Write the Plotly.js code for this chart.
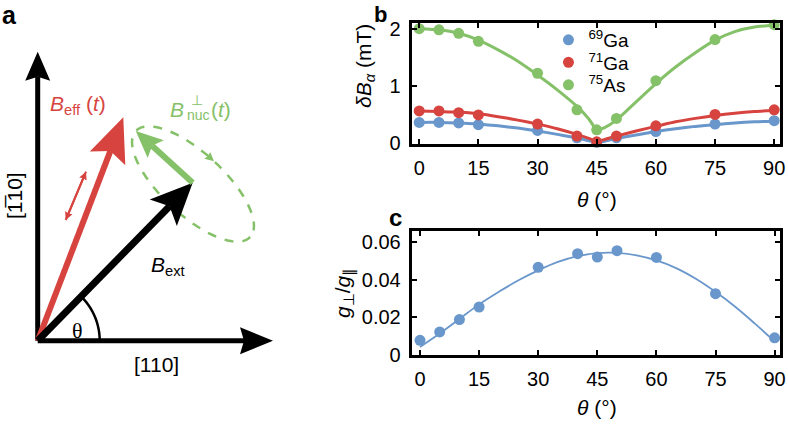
<!DOCTYPE html>
<html>
<head>
<meta charset="utf-8">
<script src="https://cdn.plot.ly/plotly-3.0.1.min.js"></script>
<style>
  body { margin: 0; background: #fff; }
  #fig { width: 788px; height: 426px; }
</style>
</head>
<body>
<div id="fig"></div>
<script>
// ---- panel b data: field fluctuation amplitude vs angle
var thetaB = [0, 5, 10, 15, 30, 40, 45, 50, 60, 75, 90];
var ga69 = [0.36, 0.36, 0.35, 0.32, 0.22, 0.09, 0.01, 0.09, 0.20, 0.33, 0.39];
var ga71 = [0.56, 0.56, 0.53, 0.49, 0.33, 0.12, 0.02, 0.12, 0.30, 0.50, 0.58];
var as75 = [2.00, 1.98, 1.92, 1.78, 1.22, 0.58, 0.23, 0.43, 1.09, 1.81, 2.07];

// fitted curves
var fitThetaB = [0, 5, 10, 15, 20, 25, 30, 35, 40, 43, 45, 47, 50, 55, 60, 65, 70, 75, 80, 85, 90];
var fit69 = [0.36, 0.36, 0.35, 0.33, 0.30, 0.26, 0.21, 0.15, 0.09, 0.04, 0.01, 0.03, 0.08, 0.14, 0.20, 0.25, 0.29, 0.32, 0.35, 0.37, 0.38];
var fit71 = [0.56, 0.55, 0.54, 0.51, 0.46, 0.40, 0.33, 0.25, 0.15, 0.08, 0.03, 0.06, 0.12, 0.21, 0.29, 0.37, 0.43, 0.48, 0.52, 0.55, 0.57];
var fit75 = [2.00, 1.98, 1.92, 1.80, 1.63, 1.43, 1.19, 0.93, 0.64, 0.42, 0.23, 0.27, 0.40, 0.72, 1.04, 1.33, 1.58, 1.80, 1.95, 2.03, 2.06];

// ---- panel c data: g-factor ratio vs angle
var thetaC = [0, 5, 10, 15, 30, 40, 45, 50, 60, 75, 90];
var gRatio = [0.0076, 0.0121, 0.0187, 0.0254, 0.0466, 0.0539, 0.0521, 0.0555, 0.0519, 0.0325, 0.0089];
var fitThetaC = [0, 5, 10, 15, 20, 25, 30, 35, 40, 45, 50, 55, 60, 65, 70, 75, 80, 85, 90];
var fitG = [0.0040, 0.0112, 0.0190, 0.0268, 0.0335, 0.0397, 0.0450, 0.0495, 0.0526, 0.0542, 0.0543, 0.0530, 0.0503, 0.0462, 0.0405, 0.0335, 0.0255, 0.0165, 0.0070];

var ticksTheta = [0, 15, 30, 45, 60, 75, 90];
var seriesNames = ['<sup>69</sup>Ga', '<sup>71</sup>Ga', '<sup>75</sup>As'];

var BLUE = '#6a97cb', RED = '#d7443f', GREEN = '#85c168';
var FONT = 'Liberation Sans, Arial, Helvetica, sans-serif';

// ---- panel a: vector diagram, in pixel units of a hidden subplot
var origin = [37.7, 340.7];
var extTip = [192.7, 182.7];
var effTip = [123.3, 117.3];
var ell = {cx: 193, cy: 184, a: 78, b: 31, phi: 42.8};

function ellPoint(tDeg) {
  var t = tDeg * Math.PI / 180, p = ell.phi * Math.PI / 180;
  return [ell.cx + ell.a * Math.cos(t) * Math.cos(p) - ell.b * Math.sin(t) * Math.sin(p),
          ell.cy + ell.a * Math.cos(t) * Math.sin(p) + ell.b * Math.sin(t) * Math.cos(p)];
}

function arrow(p0, p1, color, w, head, hw, notch) {
  var dx = p1[0] - p0[0], dy = p1[1] - p0[1];
  var L = Math.sqrt(dx * dx + dy * dy), ux = dx / L, uy = dy / L, nx = -uy, ny = ux;
  var bx = p1[0] - ux * head, by = p1[1] - uy * head;
  var mx = p1[0] - ux * (head - notch), my = p1[1] - uy * (head - notch);
  return [
    {type: 'line', xref: 'x3', yref: 'y3', x0: p0[0], y0: p0[1], x1: mx, y1: my,
     line: {color: color, width: w}},
    {type: 'path', xref: 'x3', yref: 'y3', fillcolor: color, line: {width: 0},
     path: 'M' + p1[0] + ',' + p1[1] + ' L' + (bx + nx * hw) + ',' + (by + ny * hw) +
           ' L' + mx + ',' + my + ' L' + (bx - nx * hw) + ',' + (by - ny * hw) + ' Z'}
  ];
}

var shapes = [];
// crystal axes
shapes = shapes.concat(arrow(origin, [origin[0], 51.7], 'black', 5, 29, 12.5, 4));
shapes = shapes.concat(arrow(origin, [273, origin[1]], 'black', 5, 33, 13.5, 4));
// theta arc
var arcPts = [];
for (var k = 0; k <= 30; k++) {
  var ang = k / 30 * 45.5 * Math.PI / 180;
  arcPts.push((origin[0] + 62 * Math.cos(ang)) + ',' + (origin[1] - 62 * Math.sin(ang)));
}
shapes.push({type: 'path', xref: 'x3', yref: 'y3', path: 'M' + arcPts.join(' L'),
             line: {color: 'black', width: 2.5}});
// red B_eff and its small double arrow
shapes = shapes.concat(arrow(origin, effTip, RED, 6, 44, 19, 8));
shapes = shapes.concat(arrow([65.7, 220], [86, 171.7], RED, 2, 8, 4, 1));
shapes = shapes.concat(arrow([86, 171.7], [65.7, 220], RED, 2, 8, 4, 1));
// dashed precession ellipse
var ePts = [];
for (var t = 0; t <= 360; t += 5) { var q = ellPoint(t); ePts.push(q[0] + ',' + q[1]); }
shapes.push({type: 'path', xref: 'x3', yref: 'y3', path: 'M' + ePts.join(' L') + ' Z',
             line: {color: GREEN, width: 2.5, dash: 'dash'}});
var ea = ellPoint(-100), eb = ellPoint(-90);
shapes = shapes.concat(arrow(ea, eb, GREEN, 0.1, 9, 4.5, 1));
// black B_ext and green B_nuc
shapes = shapes.concat(arrow(origin, extTip, 'black', 7, 42, 19, 9));
shapes = shapes.concat(arrow(extTip, ellPoint(180), GREEN, 6, 27, 12, 5));
shapes.forEach(function (s) { s.layer = 'above'; });

function lab(x, y, text, size, color, extra) {
  var a = {xref: 'x3', yref: 'y3', x: x, y: y, text: text, showarrow: false,
           xanchor: 'center', yanchor: 'middle',
           font: {family: FONT, size: size, color: color || 'black'}};
  for (var key in extra) a[key] = extra[key];
  return a;
}
function plab(x, y, text, extra) {
  var a = {xref: 'paper', yref: 'paper', x: x / 788, y: 1 - y / 426, text: text,
           showarrow: false, xanchor: 'center', yanchor: 'middle',
           font: {family: FONT, size: 21, color: 'black'}};
  for (var key in extra) a[key] = extra[key];
  return a;
}

var annotations = [
  lab(9, 15, '<b>a</b>', 25),
  lab(48, 105, '<i>B</i><sub>eff</sub> (<i>t</i>)', 21, RED, {xanchor: 'left'}),
  lab(177, 109, '<i>B</i>', 21, GREEN),
  lab(197, 100, '⊥', 14, GREEN),
  lab(198, 115, 'nuc', 14, GREEN),
  lab(221, 109, '(<i>t</i>)', 21, GREEN),
  lab(149, 266, '<i>B</i><sub>ext</sub>', 21, 'black', {xanchor: 'left'}),
  lab(156, 364, '[110]', 21),
  lab(14, 196, '[1\u030510]', 21, 'black', {textangle: -90}),
  {xref: 'x3', yref: 'y3', x: 77, y: 330, text: 'θ', showarrow: false,
   xanchor: 'center', yanchor: 'middle',
   font: {family: 'Liberation Serif, DejaVu Serif, serif', size: 22, color: 'black'}},
  plab(380, 14, '<b>b</b>', {font: {family: FONT, size: 22, color: 'black'}, borderpad: 0}),
  plab(396, 218, '<b>c</b>', {font: {family: FONT, size: 24, color: 'black'}, borderpad: 0}),
  plab(365, 66, '<i>δB</i><sub><i>α</i></sub> (mT)', {textangle: -90}),
  plab(344, 293, '<i>g</i><sub>⊥</sub>/<i>g</i><sub>∥</sub>', {textangle: -90}),
  plab(597, 199, '<i>θ</i> (°)'),
  plab(597, 407, '<i>θ</i> (°)')
];

var data = [
  {x: fitThetaB, y: fit69, mode: 'lines', line: {color: BLUE, width: 3, shape: 'spline', smoothing: 0.6}, showlegend: false, hoverinfo: 'skip'},
  {x: fitThetaB, y: fit71, mode: 'lines', line: {color: RED, width: 3, shape: 'spline', smoothing: 0.6}, showlegend: false, hoverinfo: 'skip'},
  {x: fitThetaB, y: fit75, mode: 'lines', line: {color: GREEN, width: 3, shape: 'spline', smoothing: 0.5}, showlegend: false, hoverinfo: 'skip'},
  {x: thetaB, y: ga69, name: seriesNames[0], legend: 'legend', mode: 'markers', marker: {color: BLUE, size: 11}, cliponaxis: false},
  {x: thetaB, y: ga71, name: seriesNames[1], legend: 'legend2', mode: 'markers', marker: {color: RED, size: 11}, cliponaxis: false},
  {x: thetaB, y: as75, name: seriesNames[2], legend: 'legend3', mode: 'markers', marker: {color: GREEN, size: 11}, cliponaxis: false},
  {x: fitThetaC, y: fitG, xaxis: 'x2', yaxis: 'y2', mode: 'lines', line: {color: BLUE, width: 1.8, shape: 'spline'}, showlegend: false, hoverinfo: 'skip'},
  {x: thetaC, y: gRatio, xaxis: 'x2', yaxis: 'y2', mode: 'markers', marker: {color: BLUE, size: 11}, showlegend: false, cliponaxis: false},
  {x: [], y: [], xaxis: 'x3', yaxis: 'y3', showlegend: false, hoverinfo: 'skip'}
];

var axisStyle = {
  showline: true, linecolor: 'black', linewidth: 3, mirror: 'ticks',
  ticks: 'inside', ticklen: 5, tickwidth: 2, tickcolor: 'black',
  showgrid: false, zeroline: false, tickfont: {family: FONT, size: 20, color: 'black'}
};
function ax(extra) {
  var o = {};
  for (var k in axisStyle) o[k] = axisStyle[k];
  for (var j in extra) o[j] = extra[j];
  return o;
}
function leg(yPix) {
  return {x: 0.696, y: 1 - yPix / 426, xanchor: 'left', yanchor: 'middle',
          bgcolor: 'rgba(0,0,0,0)', itemwidth: 30,
          font: {family: FONT, size: 19, color: 'black'}};
}

var layout = {
  width: 788, height: 426,
  margin: {l: 0, r: 0, t: 0, b: 0},
  paper_bgcolor: 'white', plot_bgcolor: 'rgba(0,0,0,0)',
  font: {family: FONT, size: 20, color: 'black'},
  xaxis: ax({domain: [0.5225, 0.9895], range: [-1.9, 91.4], tickvals: ticksTheta, anchor: 'y', ticklabelstandoff: 4}),
  yaxis: ax({domain: [0.6631, 0.946], range: [-0.01, 2.1], tickvals: [0, 1, 2], anchor: 'x', ticklabelstandoff: 4}),
  xaxis2: ax({domain: [0.5225, 0.9895], range: [-2.1, 91.3], tickvals: ticksTheta, anchor: 'y2', ticklabelstandoff: 4}),
  yaxis2: ax({domain: [0.1678, 0.4577], range: [0, 0.066], tickvals: [0, 0.02, 0.04, 0.06],
              ticktext: ['0', '0.02', '0.04', '0.06'], anchor: 'x2', ticklabelstandoff: 4}),
  xaxis3: {domain: [0, 331 / 788], range: [0, 331], visible: false, anchor: 'y3', fixedrange: true},
  yaxis3: {domain: [0, 1], range: [426, 0], visible: false, anchor: 'x3', fixedrange: true},
  legend: leg(40),
  legend2: leg(62.5),
  legend3: leg(85),
  shapes: shapes,
  annotations: annotations
};

Plotly.newPlot('fig', data, layout, {staticPlot: true});
</script>
</body>
</html>
